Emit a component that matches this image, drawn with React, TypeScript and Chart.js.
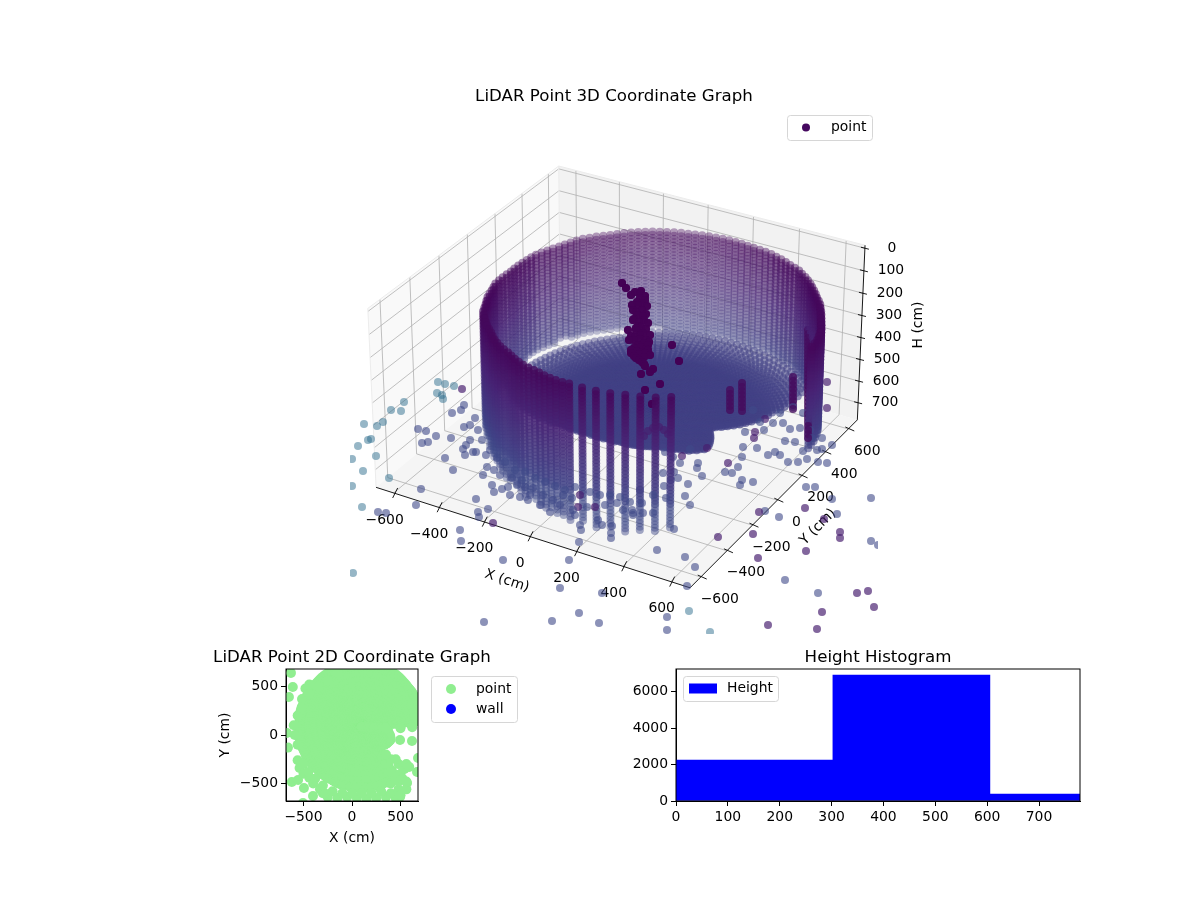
import React, { useEffect, useRef } from "react";
import { Chart, registerables } from "chart.js";

Chart.register(...registerables);
Chart.defaults.font.family = "'DejaVu Sans'";
Chart.defaults.color = "#000";

// ---------- scan (cm) ----------
const scanCentre = [95, 85];
const azimuths = [
  0, 2.5, 5, 7.5, 10, 12.5, 15, 17.5, 20, 22.5, 25, 27.5,
  30, 32.5, 35, 37.5, 40, 42.5, 45, 47.5, 50, 52.5, 55, 57.5,
  60, 62.5, 65, 67.5, 70, 72.5, 75, 77.5, 80, 82.5, 85, 87.5,
  90, 92.5, 95, 97.5, 100, 102.5, 105, 107.5, 110, 112.5, 115, 117.5,
  120, 122.5, 125, 127.5, 130, 132.5, 135, 137.5, 140, 142.5, 145, 147.5,
  150, 152.5, 155, 157.5, 160, 162.5, 165, 167.5, 170, 172.5, 175, 177.5,
  180, 182.5, 185, 187.5, 190, 192.5, 195, 197.5, 200, 202.5, 205, 207.5,
  210, 212.5, 215, 217.5, 220, 222.5, 225, 227.5, 230, 232.5, 235, 237.5,
  240, 242.5, 245, 247.5, 250, 252.5, 255, 257.5, 260, 262.5, 265, 267.5,
  270, 272.5, 275, 277.5, 280, 282.5, 285, 287.5, 290, 292.5, 295, 297.5,
  300, 302.5, 305, 307.5, 310, 312.5, 315, 317.5, 320, 322.5, 325, 327.5,
  330, 332.5, 335, 337.5, 340, 342.5, 345, 347.5, 350, 352.5, 355, 357.5,
];
const wallRadius = [
  0, 0, 640, 641, 642, 640, 640, 638, 635, 632, 630, 630,
  630, 630, 632, 631, 630, 632, 634, 636, 640, 642, 645, 646,
  650, 649, 648, 649, 650, 651, 652, 651, 650, 649, 648, 649,
  650, 651, 652, 651, 650, 649, 648, 649, 650, 650, 650, 651,
  652, 651, 650, 649, 648, 646, 645, 646, 648, 649, 650, 648,
  645, 642, 640, 641, 642, 643, 645, 643, 640, 639, 638, 637,
  635, 637, 640, 642, 645, 642, 640, 641, 642, 641, 640, 642,
  645, 642, 640, 637, 635, 632, 630, 631, 632, 631, 630, 628,
  625, 626, 628, 629, 630, 628, 625, 626, 628, 629, 630, 628,
  625, 0, 628, 0, 630, 0, 632, 0, 630, 0, 635, 0,
  640, 0, 640, 0, 0, 0, 0, 0, 0, 0, 0, 0,
  0, 0, 0, 0, 0, 0, 0, 0, 0, 0, 0, 0,
];
const wallBottom = [
  0, 0, 610, 612, 610, 613, 615, 618, 620, 620, 620, 622,
  625, 622, 620, 618, 615, 612, 610, 610, 610, 610, 610, 608,
  605, 608, 610, 610, 610, 608, 605, 608, 610, 610, 610, 612,
  605, 608, 610, 610, 610, 610, 610, 608, 605, 608, 605, 600,
  600, 595, 590, 590, 590, 590, 590, 590, 590, 595, 590, 590,
  590, 585, 585, 590, 595, 595, 600, 600, 600, 605, 610, 630,
  640, 600, 650, 610, 660, 620, 650, 640, 670, 650, 680, 660,
  690, 660, 690, 670, 700, 680, 710, 690, 700, 710, 720, 725,
  730, 700, 720, 730, 740, 715, 730, 740, 750, 725, 740, 750,
  755, 750, 745, 750, 755, 748, 740, 748, 755, 748, 740, 745,
  750, 740, 730, 735, 740, 725, 710, 720, 730, 715, 700, 700,
  0, 0, 0, 0, 0, 0, 0, 0, 0, 0, 0, 0,
];
const floorRadius = [
  240, 250, 260, 280, 300, 320, 340, 360, 380, 400, 420, 445,
  470, 495, 520, 545, 570, 595, 620, 630, 640, 640, 640, 640,
  640, 640, 640, 640, 640, 640, 640, 640, 640, 640, 640, 640,
  640, 640, 640, 640, 640, 640, 640, 640, 640, 640, 640, 640,
  630, 625, 620, 615, 610, 605, 600, 600, 600, 600, 600, 600,
  600, 600, 600, 600, 600, 605, 610, 615, 620, 625, 630, 630,
  630, 625, 620, 610, 600, 590, 580, 570, 560, 540, 520, 500,
  480, 460, 440, 420, 400, 380, 360, 350, 340, 330, 320, 310,
  300, 295, 290, 285, 280, 275, 270, 265, 260, 260, 260, 258,
  255, 255, 255, 252, 250, 250, 250, 250, 250, 250, 250, 250,
  250, 252, 255, 260, 265, 272, 280, 288, 295, 302, 310, 315,
  320, 325, 330, 325, 320, 310, 300, 290, 280, 270, 260, 250,
];
const wallLevels = [
  155, 170, 185, 200, 215, 230, 245, 260, 275, 290, 305, 320, 335, 350,
  365, 380, 395, 410, 425, 440, 455, 470, 485, 500, 515, 530, 545, 560,
  575, 590, 605, 620, 635, 650, 665, 680, 695, 710, 725, 740, 755,
];
const floorRings = [
  10, 20, 30, 40, 50, 60, 70, 80, 90, 100, 110, 120, 130, 140, 150, 160, 170, 180, 190, 200,
  210, 220, 230, 240, 250, 260, 270, 280, 290, 300, 310, 320, 330, 340, 350, 360, 370, 380, 390, 400,
  412, 426, 440, 456, 472, 490, 508, 528, 550, 574, 600, 628,
];
const floorHeight = 610;

// Stray returns read directly on the view plane of the 3D panel.
const tealX = [438, 445, 454, 437, 442, 443, 404, 391, 401, 364, 377, 383, 368, 371, 358, 352, 376, 363, 389, 352, 362, 353, 689, 710];
const tealY = [382, 384, 386, 393, 395, 399, 402, 410, 411, 424, 426, 422, 440, 439, 446, 459, 456, 471, 478, 486, 507, 573, 611, 632];
const blueX = [
  464, 452, 461, 464, 418, 426, 436, 422, 428, 451, 466, 463, 465, 473, 445, 453, 421, 416, 378, 386,
  476, 488, 478, 479, 460, 461, 503, 569, 560, 579, 552, 484, 599, 602, 674, 657, 685, 695, 687, 667, 667,
  785, 818, 806, 815, 832, 871, 779, 765, 837, 871, 878,
  487, 494, 492, 494, 502, 508, 517, 525, 533, 543, 553, 563, 572, 573, 587, 605, 575, 580, 581, 598, 602, 612, 611, 611, 579, 633, 623, 617, 630,
  745, 764, 743, 757, 742, 738, 725, 732, 753, 742, 740, 768, 775, 780, 785, 795, 788, 798, 807, 803, 812, 822, 822, 817, 832, 827, 818, 790, 800, 773, 783, 760, 810, 753, 780, 793, 803,
  665, 673, 680, 690, 698, 697, 674, 663, 678, 702, 688, 671, 664, 666, 685, 690, 653, 642, 632, 653, 643, 633,
  475, 478, 482, 490, 470, 497, 505, 515, 525, 535, 545, 555, 565, 575, 590, 600, 610, 620, 640, 486, 500, 512, 522, 530, 540, 550, 560, 470, 476, 483, 510, 520, 528,
];
const blueY = [
  405, 413, 410, 427, 429, 431, 436, 443, 442, 438, 445, 449, 455, 452, 458, 470, 489, 505, 512, 513,
  499, 509, 512, 517, 530, 541, 560, 560, 588, 613, 621, 622, 623, 593, 529, 550, 557, 567, 586, 617, 630,
  580, 593, 487, 487, 499, 498, 517, 511, 514, 541, 545,
  467, 470, 485, 492, 489, 487, 485, 487, 488, 495, 500, 495, 498, 510, 507, 505, 515, 525, 530, 520, 525, 526, 533, 538, 542, 513, 510, 503, 502,
  432, 430, 447, 448, 457, 467, 472, 473, 482, 480, 485, 455, 452, 455, 441, 442, 462, 462, 459, 451, 438, 438, 449, 450, 445, 463, 462, 429, 428, 423, 423, 422, 430, 410, 413, 407, 413,
  452, 457, 463, 449, 463, 468, 472, 473, 478, 476, 484, 480, 486, 498, 496, 505, 495, 503, 510, 513, 513, 515,
  418, 430, 440, 450, 440, 458, 462, 470, 472, 478, 482, 486, 490, 487, 492, 495, 495, 497, 490, 455, 475, 478, 480, 495, 505, 512, 505, 425, 452, 475, 495, 497, 500,
];
const purpleX = [462, 493, 580, 578, 595, 827, 827, 707, 682, 718, 753, 758, 857, 868, 874, 822, 768, 817, 805, 759, 824, 840, 840, 806, 755, 754, 765, 728, 644, 648, 653, 659, 664, 668];
const purpleY = [389, 523, 495, 507, 507, 382, 408, 448, 456, 537, 534, 558, 593, 591, 607, 612, 625, 629, 508, 512, 519, 532, 538, 551, 432, 438, 419, 463, 436, 431, 428, 427, 430, 434];
const pillarX = [622, 626, 631, 641, 640, 638, 636, 634, 638, 643, 646, 641, 645, 640, 636, 644, 642, 645, 632, 634, 638, 629, 628, 648, 650, 631, 636, 642, 645, 641, 650, 653, 660, 645, 652, 631, 672, 679,
  635, 640, 645, 637, 642, 647, 633, 638, 643, 648, 636, 641, 646, 631, 635, 640, 644, 649, 637, 642, 646, 634, 639, 644, 633, 639, 646, 650, 634, 639, 644, 648];
const pillarY = [283, 288, 295, 291, 298, 305, 312, 319, 326, 333, 340, 347, 353, 335, 330, 320, 310, 300, 305, 340, 345, 340, 330, 345, 355, 350, 358, 362, 366, 374, 372, 369, 384, 390, 404, 353, 345, 361,
  292, 293, 296, 302, 303, 306, 310, 315, 316, 323, 328, 327, 329, 336, 337, 339, 343, 342, 351, 352, 349, 356, 360, 357, 320, 322, 314, 335, 348, 354, 364, 350];
const columnX = [730, 742, 793, 812, 808];
const columnTop = [390, 383, 377, 370, 330];
const columnBottom = [413, 413, 410, 407, 440];

// ---------- 2D panel ----------
const extraGreenX = [-629, -610, -650, -515, -670, -660, -620, -556, -495, -402, -505, 495, 618, 670, 680, 567, 495, -250, -150, -50, 50, 150, 250, 350, 450, -300, 400, 480, 500, 560, -440, -480, 350, 430, 480,
  -560, -540, -500, -440, -400, -330, -280, -560, -590, -600, -560, -520, -440, -350, -250, -150, -500, -450, -380, -300, -200, -100, 0, 100, 200, 300, 400, 450, 500, 540, 480, 400, 350, 500, 620,
  560, 590, 450, 520, 560, 400];
const extraGreenY = [640, 495, 392, 371, 20, -130, -485, -464, -546, -629, -700, -52, -62, -381, -237, -495, -639, -640, -650, -640, -650, -660, -650, -640, -650, -600, -600, -560, -620, -560, 520, 480, -300, -400, -480,
  -260, -340, -400, -440, -500, -560, -600, -100, 0, 100, 200, 280, 420, 500, 560, 640, -300, -380, -450, -520, -580, -600, -600, -600, -600, -580, -500, -450, -400, -350, -300, -250, -200, 70, 80,
  -300, -330, -250, -450, -480, -380];
const ticks2D = [-500, 0, 500];
const ticks3D = [-600, -400, -200, 0, 200, 400, 600];
const ticksH = [0, 100, 200, 300, 400, 500, 600, 700];

// ---------- histogram ----------
const histCentres = [151.3, 453.9, 756.5];
const histCounts = [2246, 6904, 380];
const histXTicks = [0, 100, 200, 300, 400, 500, 600, 700];
const histYTicks = [0, 2000, 4000, 6000];

// ---------- view geometry ----------
const XY_LIMIT = 680;
const H_TOP = -13;
const H_BOTTOM = 780;

function project(X: number, Y: number, H: number) {
  const x = (X / XY_LIMIT) * 0.5714;
  const y = (Y / XY_LIMIT) * 0.5714;
  const z = -0.311 + (0.651 * (H_BOTTOM - H)) / (H_BOTTOM - H_TOP);
  const a = 0.866 * x + 0.5 * y;
  const b = -0.25 * x + 0.433 * y + 0.866 * z;
  const d = 0.433 * x - 0.75 * y + 0.5 * z;
  return { x: 621 + (3130 * a) / (10 - d), y: 370 - (3130 * b) / (10 - d), d };
}

const viridisStops = [
  [68, 1, 84], [72, 36, 117], [65, 68, 135], [53, 95, 141], [42, 120, 142], [33, 145, 140],
];
function viridis(c: number) {
  const t = Math.min(0.4999, Math.max(0, c)) * 10;
  const i = Math.floor(t);
  const f = t - i;
  return viridisStops[i].map((v, k) => Math.round(v + (viridisStops[i + 1][k] - v) * f));
}
function rgba(c: number, a: number) {
  const [r, g, b] = viridis(c);
  return `rgba(${r},${g},${b},${a.toFixed(3)})`;
}
function shade(d: number) {
  return 0.31 + (0.45 * (Math.max(-0.55, Math.min(0.55, d)) + 0.55)) / 1.1;
}
function polar(i: number, r: number) {
  const t = (azimuths[i] * Math.PI) / 180;
  return { X: scanCentre[0] + r * Math.cos(t), Y: scanCentre[1] + r * Math.sin(t) };
}

type P = { x: number; y: number; d: number; col: string };
function buildCloud(): P[] {
  const out: P[] = [];
  azimuths.forEach((_, i) => {
    if (wallRadius[i] > 0) {
      const w = polar(i, wallRadius[i]);
      wallLevels.forEach((h) => {
        if (h <= wallBottom[i]) {
          const p = project(w.X, w.Y, h);
          const fade = h > 620 ? 0.72 : 1;
          out.push({ ...p, col: rgba(0.02 + 0.2 * Math.min(1, (h - 155) / 500), shade(p.d) * fade) });
        }
      });
    }
    floorRings.forEach((r) => {
      if (r <= floorRadius[i]) {
        const f = polar(i, r);
        const p = project(f.X, f.Y, floorHeight);
        out.push({ ...p, col: rgba(0.19, Math.min(0.9, shade(p.d) + 0.12)) });
      }
    });
  });
  const addView = (xs: number[], ys: number[], c: number, a: number) =>
    xs.forEach((x, i) => out.push({ x, y: ys[i], d: (ys[i] - 380) / 300, col: rgba(c, a) }));
  addView(tealX, tealY, 0.36, 0.5);
  addView(blueX, blueY, 0.22, 0.6);
  addView(purpleX, purpleY, 0.08, 0.68);
  addView(pillarX, pillarY, 0, 0.9);
  addView(pillarX, pillarY, 0, 0.9);
  columnX.forEach((x, i) => {
    const xs: number[] = [];
    const ys: number[] = [];
    for (let y = columnTop[i]; y <= columnBottom[i]; y += 4) {
      xs.push(x);
      ys.push(y);
    }
    addView(xs, ys, 0.03, 0.8);
  });
  return out.sort((p, q) => p.d - q.d);
}

function buildGreen() {
  const pts: { x: number; y: number }[] = [];
  azimuths.forEach((_, i) => {
    const limit = wallRadius[i] > 0 ? wallRadius[i] : floorRadius[i];
    floorRings.forEach((r, k) => {
      if (k % 3 === 0 && r <= limit) {
        const p = polar(i, r);
        pts.push({ x: p.X, y: p.Y });
      }
    });
    const e = polar(i, limit);
    pts.push({ x: e.X, y: e.Y });
  });
  extraGreenX.forEach((x, i) => pts.push({ x, y: extraGreenY[i] }));
  return pts;
}

// ---------- plugins ----------
const legendBox = {
  id: "legendBox",
  afterDraw(chart: any, _a: any, o: any) {
    if (!o || !o.width) return;
    const c = chart.ctx;
    c.save();
    c.beginPath();
    c.roundRect(o.left + 0.5, o.top + 0.5, o.width, o.height, 3);
    c.fillStyle = "rgba(255,255,255,0.8)";
    c.fill();
    c.strokeStyle = "#d6d6d6";
    c.lineWidth = 1;
    c.stroke();
    const items = chart.data.datasets.filter((d: any) => d.label);
    items.forEach((d: any, i: number) => {
      const y = o.top + o.firstRow + i * o.rowStep;
      c.fillStyle = d.legendColor;
      if (o.patch) {
        c.fillRect(o.markerX - 14, y - 5, 28, 10);
      } else {
        c.beginPath();
        c.arc(o.markerX, y, o.markerRadius, 0, Math.PI * 2);
        c.fill();
      }
      c.fillStyle = "#000";
      c.font = "13.9px 'DejaVu Sans'";
      c.textAlign = "left";
      c.textBaseline = "middle";
      c.fillText(d.label, o.textX, y);
    });
    c.restore();
  },
};

const frameBox = {
  id: "frameBox",
  afterDatasetsDraw(chart: any, _a: any, o: any) {
    if (!o || !o.on) return;
    const { left, right, top, bottom } = chart.chartArea;
    const c = chart.ctx;
    c.save();
    c.strokeStyle = "#000";
    c.lineWidth = 1;
    c.strokeRect(left, top, right - left, bottom - top);
    c.restore();
  },
};

const box3D = {
  id: "box3D",
  beforeDatasetsDraw(chart: any, _a: any, o: any) {
    if (!o || !o.on) return;
    const c = chart.ctx;
    const sx = chart.scales.x;
    const sy = chart.scales.y;
    const P = (X: number, Y: number, H: number) => {
      const p = project(X, Y, H);
      return [sx.getPixelForValue(p.x), sy.getPixelForValue(p.y)];
    };
    const L = XY_LIMIT;
    const poly = (pts: number[][], fill: string) => {
      c.beginPath();
      pts.forEach((p, i) => (i ? c.lineTo(p[0], p[1]) : c.moveTo(p[0], p[1])));
      c.closePath();
      c.fillStyle = fill;
      c.fill();
    };
    const line = (a: number[], b: number[], col: string, w: number) => {
      c.beginPath();
      c.moveTo(a[0], a[1]);
      c.lineTo(b[0], b[1]);
      c.strokeStyle = col;
      c.lineWidth = w;
      c.stroke();
    };
    c.save();
    poly([P(-L, -L, H_BOTTOM), P(-L, L, H_BOTTOM), P(-L, L, H_TOP), P(-L, -L, H_TOP)], "#f9f9f9");
    poly([P(-L, L, H_BOTTOM), P(L, L, H_BOTTOM), P(L, L, H_TOP), P(-L, L, H_TOP)], "#f2f2f2");
    poly([P(-L, -L, H_BOTTOM), P(L, -L, H_BOTTOM), P(L, L, H_BOTTOM), P(-L, L, H_BOTTOM)], "#f5f5f5");
    const G = "#b0b0b0";
    ticks3D.forEach((t) => {
      line(P(t, -L, H_BOTTOM), P(t, L, H_BOTTOM), G, 0.8);
      line(P(t, L, H_BOTTOM), P(t, L, H_TOP), G, 0.8);
      line(P(L, t, H_BOTTOM), P(-L, t, H_BOTTOM), G, 0.8);
      line(P(-L, t, H_BOTTOM), P(-L, t, H_TOP), G, 0.8);
    });
    ticksH.forEach((t) => {
      line(P(-L, -L, t), P(-L, L, t), G, 0.8);
      line(P(-L, L, t), P(L, L, t), G, 0.8);
    });
    line(P(-L, L, H_TOP), P(-L, -L, H_TOP), "#ececec", 1);
    line(P(-L, L, H_TOP), P(L, L, H_TOP), "#ececec", 1);
    line(P(-L, -L, H_BOTTOM), P(-L, -L, H_TOP), "#ececec", 1);
    line(P(-L, L, H_BOTTOM), P(-L, L, H_TOP), "#ececec", 1);
    // axis lines
    line(P(-L, -L, H_BOTTOM), P(L, -L, H_BOTTOM), "#000", 0.9);
    line(P(L, -L, H_BOTTOM), P(L, L, H_BOTTOM), "#000", 0.9);
    line(P(L, L, H_BOTTOM), P(L, L, H_TOP), "#000", 0.9);
    c.fillStyle = "#000";
    c.textAlign = "center";
    c.textBaseline = "middle";
    c.font = "13.9px 'DejaVu Sans'";
    const label = (t: number) => (t < 0 ? `\u2212${-t}` : `${t}`);
    ticks3D.forEach((t) => {
      const a = P(t, -L, H_BOTTOM);
      line([a[0] - 1, a[1] + 5], [a[0] + 4, a[1] - 5], "#000", 0.9);
      c.fillStyle = "#000";
      c.fillText(label(t), a[0] - 9, a[1] + 27);
      const b = P(L, t, H_BOTTOM);
      line([b[0] + 6, b[1] + 2], [b[0] - 3, b[1] - 2], "#000", 0.9);
      c.fillStyle = "#000";
      c.fillText(label(t), b[0] + 19, b[1] + 22);
    });
    ticksH.forEach((t) => {
      const a = P(L, L, t);
      line([a[0] - 4, a[1] - 1], [a[0] + 4, a[1] + 1], "#000", 0.9);
      c.fillStyle = "#000";
      c.fillText(`${t}`, a[0] + 27, a[1]);
    });
    const rotated = (txt: string, x: number, y: number, deg: number) => {
      c.save();
      c.translate(sx.getPixelForValue(x), sy.getPixelForValue(y));
      c.rotate((deg * Math.PI) / 180);
      c.fillStyle = "#000";
      c.fillText(txt, 0, 0);
      c.restore();
    };
    rotated("X (cm)", 507, 581, 18);
    rotated("Y (cm)", 818, 527, -45);
    rotated("H (cm)", 918, 325, -90);
    c.restore();
  },
};

const tickOf = (vals: number[]) => (ax: any) => {
  ax.ticks = vals.map((value) => ({ value }));
};
const minusLabel = (v: any) => (Number(v) < 0 ? `\u2212${-Number(v)}` : `${v}`);
const TICK_FONT = { size: 13.9 };
const TITLE_FONT = { size: 16.67, weight: "normal" as const, lineHeight: 1 };

function axisOptions(vals: number[], min: number, max: number, extra: any) {
  return {
    type: "linear",
    min,
    max,
    afterBuildTicks: tickOf(vals),
    grid: { offset: false, drawOnChartArea: false, drawTicks: true, tickLength: 5, tickColor: "#000", lineWidth: 1 },
    border: { display: true, color: "#000" },
    ticks: { font: TICK_FONT, color: "#000", padding: 3, maxRotation: 0, autoSkip: false, callback: minusLabel },
    ...extra,
  };
}
// An empty right-hand axis, as wide as the left one, keeps the title centred on the axes box.
function balanceAxis(width: number) {
  return {
    type: "linear",
    position: "right",
    display: true,
    grid: { display: false },
    border: { display: false },
    ticks: { display: false },
    afterFit: (s: any) => { s.width = width; },
  };
}

export default function App() {
  const r3 = useRef<HTMLCanvasElement>(null);
  const r2 = useRef<HTMLCanvasElement>(null);
  const rh = useRef<HTMLCanvasElement>(null);

  useEffect(() => {
    document.body.style.margin = "0";
    const cloud = buildCloud();
    const c3 = new Chart(r3.current as any, {
      type: "scatter",
      plugins: [box3D, legendBox],
      data: {
        datasets: [
          {
            label: "point",
            data: cloud.map((p) => ({ x: p.x, y: p.y })),
            backgroundColor: cloud.map((p) => p.col),
            borderWidth: 0,
            pointRadius: 4,
            legendColor: "#45085f",
          } as any,
        ],
      },
      options: {
        responsive: false,
        animation: false,
        layout: { padding: { left: 350, right: 322, top: 0, bottom: 6 } },
        scales: {
          x: { type: "linear", min: 350, max: 878, display: false },
          y: { type: "linear", min: 106, max: 634, reverse: true, display: false },
        },
        plugins: {
          title: {
            display: true,
            text: "LiDAR Point 3D Coordinate Graph",
            font: TITLE_FONT,
            color: "#000",
            padding: { top: 88.67, bottom: 0.66 },
          },
          legend: { display: false },
          tooltip: { enabled: false },
          box3D: { on: true },
          legendBox: { left: 787, top: 115, width: 85, height: 25, firstRow: 12.5, rowStep: 20, markerX: 806, markerRadius: 4, textX: 831 },
        } as any,
      },
    });

    const c2 = new Chart(r2.current as any, {
      type: "scatter",
      plugins: [frameBox, legendBox],
      data: {
        datasets: [
          { label: "point", data: buildGreen(), backgroundColor: "#90ee90", borderWidth: 0, pointRadius: 5, legendColor: "#90ee90" } as any,
          { label: "wall", data: [], backgroundColor: "#0000ff", legendColor: "#0000ff" } as any,
        ],
      },
      options: {
        responsive: false,
        animation: false,
        scales: {
          x: axisOptions(ticks2D, -XY_LIMIT, XY_LIMIT, {
            afterFit: (s: any) => { s.height = 59; },
            title: { display: true, text: "X (cm)", font: TICK_FONT, color: "#000", padding: { top: 0, bottom: 13 } },
          }),
          y: axisOptions(ticks2D, -XY_LIMIT, XY_LIMIT, {
            afterFit: (s: any) => { s.width = 124; },
            title: { display: true, text: "Y (cm)", font: TICK_FONT, color: "#000", padding: { top: 55, bottom: 0 } },
          }),
          balance: balanceAxis(124),
        } as any,
        plugins: {
          title: { display: true, text: "LiDAR Point 2D Coordinate Graph", font: TITLE_FONT, color: "#000", padding: { top: 9.67, bottom: 2.66 } },
          legend: { display: false },
          tooltip: { enabled: false },
          frameBox: { on: true },
          legendBox: { left: 269, top: 36, width: 86, height: 46, firstRow: 13, rowStep: 20, markerX: 289, markerRadius: 5, textX: 314 },
        } as any,
      },
    });

    const ch = new Chart(rh.current as any, {
      type: "bar",
      plugins: [frameBox, legendBox],
      data: {
        datasets: [
          {
            label: "Height",
            data: histCentres.map((x, i) => ({ x, y: histCounts[i] })),
            backgroundColor: "#0000ff",
            barThickness: 157,
            borderWidth: 0,
            legendColor: "#0000ff",
          } as any,
        ],
      },
      options: {
        responsive: false,
        animation: false,
        scales: {
          x: axisOptions(histXTicks, 0, 779, {
            offset: false,
            afterFit: (s: any) => { s.height = 59; },
          }),
          y: axisOptions(histYTicks, 0, 7233, {
            afterFit: (s: any) => { s.width = 56; },
          }),
          balance: balanceAxis(56),
        } as any,
        plugins: {
          title: { display: true, text: "Height Histogram", font: TITLE_FONT, color: "#000", padding: { top: 9.67, bottom: 2.66 } },
          legend: { display: false },
          tooltip: { enabled: false },
          frameBox: { on: true },
          legendBox: { left: 63, top: 36, width: 95, height: 25, firstRow: 12.5, rowStep: 20, patch: true, markerX: 83, textX: 107 },
        } as any,
      },
    });

    return () => {
      c3.destroy();
      c2.destroy();
      ch.destroy();
    };
  }, []);

  return (
    <div style={{ position: "fixed", left: 0, top: 0, width: 1200, height: 900, background: "#fff", overflow: "hidden" }}>
      <canvas ref={r3} width={1200} height={640} style={{ position: "absolute", left: 0, top: 0 }} />
      <canvas ref={r2} width={380} height={220} style={{ position: "absolute", left: 162, top: 640 }} />
      <canvas ref={rh} width={516} height={220} style={{ position: "absolute", left: 620, top: 640 }} />
    </div>
  );
}
